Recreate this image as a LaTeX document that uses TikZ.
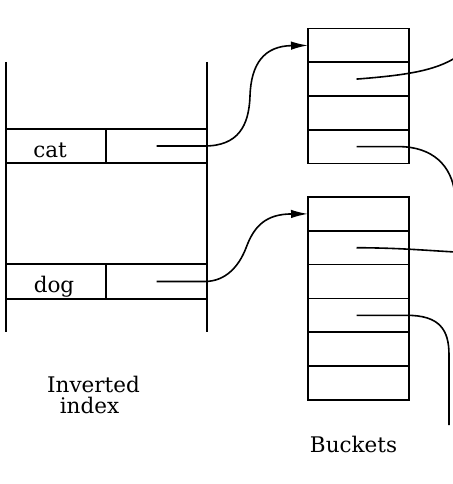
\documentclass[tikz,border=0pt]{standalone}
\usepackage{fontspec}
\setmainfont{DejaVu Serif}
\usetikzlibrary{arrows.meta}
\begin{document}
\begin{tikzpicture}[x=1pt,y=-1pt,
  cell/.style={draw, line width=1.7pt, minimum width=101pt, minimum height=33.75pt, inner sep=0pt, outer sep=0pt},
  lbl/.style={font=\fontsize{21.5}{26}\selectfont, inner sep=0pt, anchor=base},
  conn/.style={line width=1.6pt},
  arr/.style={conn, -{Latex[length=17pt,width=8.5pt]}}]
\useasboundingbox (0,0) rectangle (452,484);
% inverted index
\draw[line width=1.7pt] (6,62) -- (6,332);
\draw[line width=1.7pt] (207,62) -- (207,332);
\node[cell, minimum width=100pt, minimum height=34pt] (catkey) at (56,146) {};
\node[cell, minimum width=101pt, minimum height=34pt] (catptr) at (156.5,146) {};
\node[cell, minimum width=100pt, minimum height=35pt] (dogkey) at (56,281.5) {};
\node[cell, minimum width=101pt, minimum height=35pt] (dogptr) at (156.5,281.5) {};
\node[lbl] (catw) at (50,157) {cat};
\node[lbl] (dogw) at (54,292) {dog};
\node[lbl] (inv1) at (93.5,392) {Inverted};
\node[lbl] (inv2) at (89.5,413) {index};
% buckets
\foreach \i/\y in {1/45.4,2/79.1,3/112.9,4/146.6}
  \node[cell] (b1r\i) at (358.5,\y) {};
\foreach \i/\y in {1/213.9,2/247.7,3/281.5,4/315.3,5/349.1,6/382.9}
  \node[cell] (b2r\i) at (358.5,\y) {};
\node[lbl] (bk) at (353.5,452) {Buckets};
% free ends
\coordinate (e1) at (455,58);
\coordinate (e2) at (455,195);
\coordinate (e3) at (455,252);
\coordinate (e4) at (449,425);
% connectors
\draw[arr] (catptr.center) -- ++(48,0) .. controls (238,146) and (249,126) .. (250,96) .. controls (251,64) and (264,46) .. (b1r1.west);
\draw[arr] (dogptr.center) -- ++(48,0) .. controls (226,281.5) and (239,266) .. (246,248) .. controls (254,226) and (266,214) .. (b2r1.west);
\draw[conn] ([xshift=-2pt]b1r2.center) .. controls (410,75) and (435,70) .. (e1);
\draw[conn] ([xshift=-2pt]b1r4.center) -- ++(42,0) .. controls (432,146.6) and (452,165) .. (e2);
\draw[conn] ([xshift=-2pt]b2r2.center) .. controls (400,248) and (420,250) .. (e3);
\draw[conn] ([xshift=-2pt]b2r4.center) -- ++(50,0) .. controls (440,315.3) and (449,330) .. (449,355) -- (e4);
\end{tikzpicture}
\end{document}
